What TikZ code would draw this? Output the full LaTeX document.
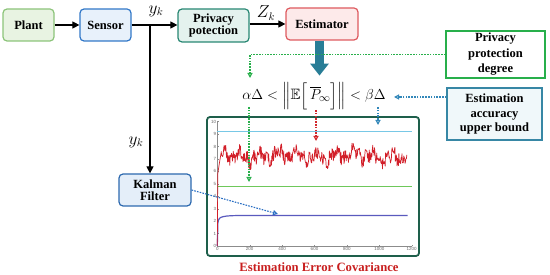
\documentclass[tikz,border=0pt]{standalone}
\usepackage{fontspec}
\setmainfont{Liberation Serif}
\newfontfamily\ticksans{Liberation Sans}
\usepackage{amssymb}
\usetikzlibrary{arrows.meta}
\definecolor{plantB}{RGB}{140,196,122}
\definecolor{plantF}{RGB}{232,243,226}
\definecolor{sensB}{RGB}{50,120,200}
\definecolor{sensF}{RGB}{232,241,251}
\definecolor{privB}{RGB}{40,135,115}
\definecolor{privF}{RGB}{228,242,238}
\definecolor{estB}{RGB}{222,90,95}
\definecolor{estF}{RGB}{253,234,234}
\definecolor{kalB}{RGB}{45,105,175}
\definecolor{kalF}{RGB}{228,238,249}
\definecolor{ppdB}{RGB}{40,175,75}
\definecolor{eauB}{RGB}{55,135,165}
\definecolor{eauF}{RGB}{240,248,250}
\definecolor{frameC}{RGB}{30,95,75}
\definecolor{thickC}{RGB}{40,125,150}
\definecolor{gdotC}{RGB}{40,175,75}
\definecolor{rdotC}{RGB}{210,40,45}
\definecolor{bdotC}{RGB}{50,135,185}
\definecolor{kdotC}{RGB}{40,110,195}
\definecolor{redC}{RGB}{210,30,40}
\definecolor{blueC}{RGB}{90,90,190}
\definecolor{cyanC}{RGB}{120,200,230}
\definecolor{greenC}{RGB}{110,200,90}
\definecolor{capC}{RGB}{200,30,30}
\begin{document}
\begin{tikzpicture}[x=1pt,y=-1pt,
  box/.style={rounded corners=4pt, line width=1.2pt, align=center, inner sep=1pt,
    font=\fontsize{12.5}{12.5}\selectfont\bfseries},
  arr/.style={line width=1.1pt, -{Triangle[length=7pt,width=7pt]}},
  dotl/.style={line width=1.1pt, dash pattern=on 1.6pt off 1.2pt, -{Triangle[open,length=5pt,width=5pt]}},
  lab/.style={font=\fontsize{16}{16}\selectfont},
  tick/.style={font=\ticksans\fontsize{4.5}{4.5}\selectfont, text=black!60, inner sep=1pt}
]
\useasboundingbox (0,0) rectangle (550,275);

% blocks
\node[box, draw=plantB, fill=plantF, minimum width=51pt, minimum height=32pt] (plant) at (28.5,25) {Plant};
\node[box, draw=sensB, fill=sensF, minimum width=51pt, minimum height=32pt] (sens) at (105.5,25) {Sensor};
\node[box, draw=privB, fill=privF, minimum width=71pt, minimum height=33pt] (priv) at (213.5,25.5) {Privacy\\potection};
\node[box, draw=estB, fill=estF, minimum width=72pt, minimum height=32pt] (est) at (322,24) {Estimator};
\node[box, draw=kalB, fill=kalF, minimum width=72pt, minimum height=32pt] (kal) at (155,190) {Kalman\\Filter};
\node[box, rounded corners=0pt, draw=ppdB, fill=white, minimum width=99pt, minimum height=47pt,
  font=\fontsize{12.5}{15.5}\selectfont\bfseries] (ppd) at (495.5,54.5) {Privacy\\protection\\degree};
\node[box, rounded corners=0pt, draw=eauB, fill=eauF, minimum width=95pt, minimum height=52pt,
  font=\fontsize{12.5}{14.5}\selectfont\bfseries] (eau) at (494.5,114) {Estimation\\accuracy\\upper bound};

% main signal flow
\coordinate (br) at (150,25);
\draw[arr] (plant) -- (sens);
\draw[arr] (sens.east) -- (sens.east -| priv.west);
\draw[arr] (br) -- (br |- kal.north);
\draw[arr] (priv.east |- est) -- (est.west);
\node[lab] (yk1) at (156,11) {$y_k$};
\node[lab] (zk) at (266,13) {$Z_k$};
\node[lab] (yk2) at (136,142) {$y_k$};

% thick arrow
\draw[thickC, line width=9pt, -{Triangle[length=12pt,width=18pt]}] ([xshift=-2.5pt]est.south) -- ++(0,35);

% inequality
\node[inner sep=0pt] (ineq) at (314,96) {\fontsize{15}{17}\selectfont
  $\alpha\Delta < \bigg\|\mathbb{E}\bigg[\,\overline{P}_{\!\infty}\bigg]\bigg\| < \beta\Delta$};

% plot frame
\node[draw=frameC, line width=1.8pt, rounded corners=3pt, fill=white,
  minimum width=212pt, minimum height=139pt] (plot) at (313,186.5) {};
\node[font=\fontsize{12.7}{12.7}\selectfont\bfseries, text=capC] (cap) at (319,267) {Estimation Error Covariance};

\begin{scope}[shift={(217.3,246)}, x=0.162pt, y=12.43pt]
  \draw[black!45, line width=0.5pt] (0,10) -- (0,0) -- (1200,0);
  \foreach \v in {0,...,10} {
    \draw[black!45, line width=0.4pt] (0,\v) -- (10,\v);
    \node[tick, anchor=east] at (0,\v) {\v};
  }
  \foreach \t in {0,200,...,1200} {
    \draw[black!45, line width=0.4pt] (\t,0) -- (\t,0.12);
    \node[tick, anchor=north] at (\t,-0.05) {\t};
  }
  \draw[cyanC, line width=1pt] (0,9.2) -- (1200,9.2);
  \draw[greenC, line width=1pt] (0,4.8) -- (1200,4.8);
  \draw[blueC, line width=1.2pt] (0,0) -- (4,2.0) .. controls (10,2.38) and (40,2.45) .. (150,2.45) -- (1175,2.45);
  \pgfmathsetseed{11}
  \draw[redC, line width=0.7pt, line join=round] (0,0) -- (3,5.8) -- (12,6.6) -- (25,7.6) --
    plot[domain=25:1170, samples=420] (\x, {7.25+0.28*sin(3.1*\x)+0.2*sin(8.3*\x+30)+0.12*sin(0.9*\x+60)+0.55*rand});
\end{scope}

% dotted annotations
\coordinate (g1) at (250,78);
\coordinate (g2a) at (249,107);
\coordinate (g2b) at (249,182);
\coordinate (r1a) at (316,110);
\coordinate (r1b) at (316,141);
\coordinate (bh) at (394,97);
\coordinate (b2a) at (378,107);
\coordinate (b2b) at (378,125);
\coordinate (k1) at (278,214);
\draw[dotl, gdotC] (ppd.west) -| (g1);
\draw[dotl, gdotC] (g2a) -- (g2b);
\draw[dotl, rdotC] (r1a) -- (r1b);
\draw[dotl, bdotC] (eau.west |- bh) -- (bh);
\draw[dotl, bdotC] (b2a) -- (b2b);
\draw[dotl, kdotC] (kal.east) -- (k1);
\end{tikzpicture}
\end{document}
